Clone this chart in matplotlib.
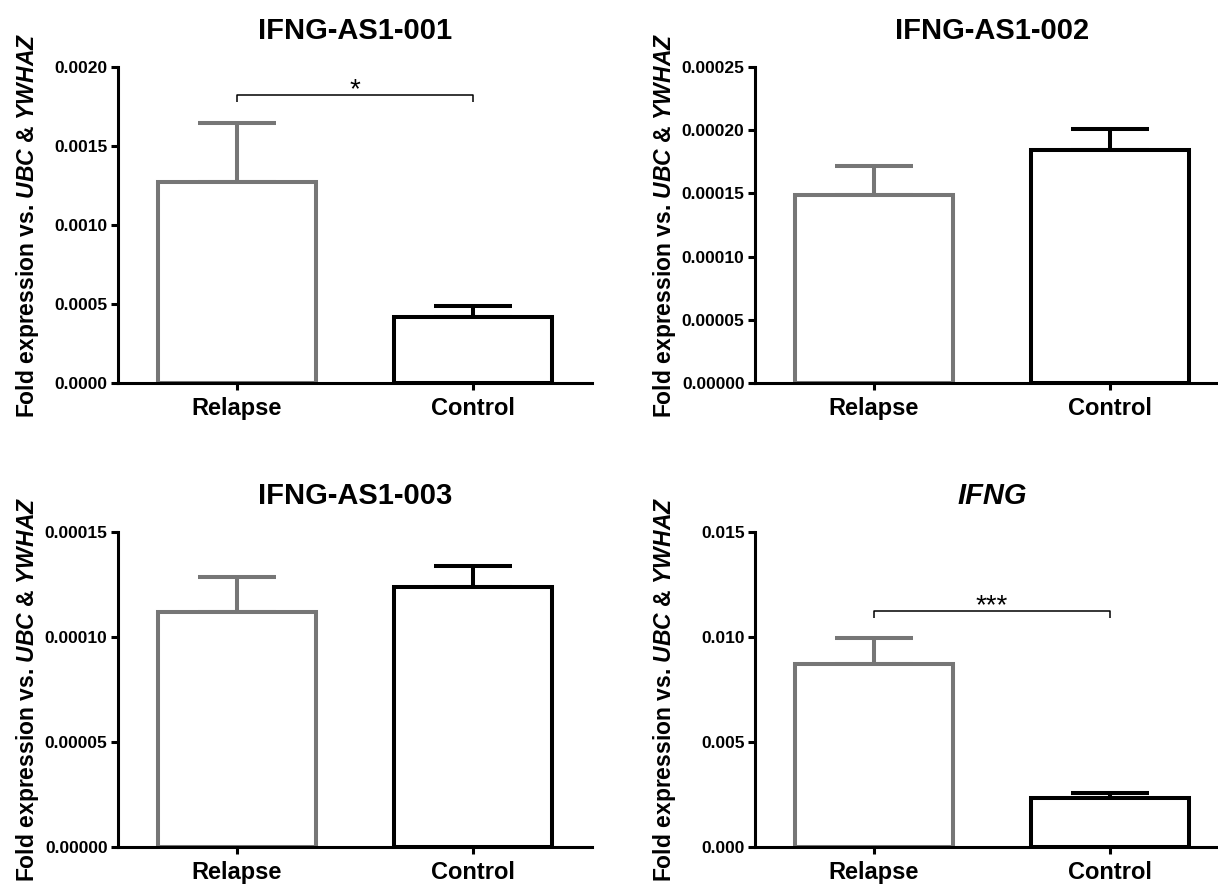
import matplotlib
matplotlib.use('Agg')
import matplotlib.pyplot as plt

plt.rcParams['font.family'] = ['Liberation Sans', 'DejaVu Sans']
plt.rcParams['font.weight'] = 'bold'
plt.rcParams['mathtext.fontset'] = 'custom'
plt.rcParams['mathtext.rm'] = 'Liberation Sans:bold'
plt.rcParams['mathtext.it'] = 'Liberation Sans:bold:italic'
plt.rcParams['mathtext.bf'] = 'Liberation Sans:bold'

# ---------------- data ----------------
categories = ['Relapse', 'Control']
titles = ['IFNG-AS1-001', 'IFNG-AS1-002', 'IFNG-AS1-003', 'IFNG']

means_001 = [0.00127, 0.000420]
sem_001 = [0.000375, 0.000070]
means_002 = [0.000149, 0.000184]
sem_002 = [0.0000226, 0.0000173]
means_003 = [0.000112, 0.000124]
sem_003 = [0.0000166, 0.0000096]
means_ifng = [0.00873, 0.00233]
sem_ifng = [0.00122, 0.00023]

yticks_001 = [0.0, 0.0005, 0.0010, 0.0015, 0.0020]
ylabels_001 = ['0.0000', '0.0005', '0.0010', '0.0015', '0.0020']
yticks_002 = [0.0, 0.00005, 0.00010, 0.00015, 0.00020, 0.00025]
ylabels_002 = ['0.00000', '0.00005', '0.00010', '0.00015', '0.00020', '0.00025']
yticks_003 = [0.0, 0.00005, 0.00010, 0.00015]
ylabels_003 = ['0.00000', '0.00005', '0.00010', '0.00015']
yticks_ifng = [0.0, 0.005, 0.010, 0.015]
ylabels_ifng = ['0.000', '0.005', '0.010', '0.015']

# significance annotations: (bracket level, drop level, text baseline, text)
sig_001 = (0.00182, 0.00178, 0.00181, '*')
sig_ifng = (0.01124, 0.01091, 0.01112, '***')

bar_colors = ['#767676', '#000000']
ylabel = r'Fold expression vs. $\mathit{UBC}$ & $\mathit{YWHAZ}$'

# ---------------- layout ----------------
W, H = 1218, 884
fig = plt.figure(figsize=(W / 100, H / 100), dpi=100)
fig.patch.set_facecolor('white')

AX_W = 474


def make_axes(left_px, top_px, bottom_px):
    return fig.add_axes([left_px / W, 1 - bottom_px / H, AX_W / W,
                         (bottom_px - top_px) / H])


panels = [
    (make_axes(118, 67, 383), titles[0], means_001, sem_001, yticks_001, ylabels_001, sig_001, 'normal'),
    (make_axes(755, 67, 383), titles[1], means_002, sem_002, yticks_002, ylabels_002, None, 'normal'),
    (make_axes(118, 532, 847), titles[2], means_003, sem_003, yticks_003, ylabels_003, None, 'normal'),
    (make_axes(755, 532, 847), titles[3], means_ifng, sem_ifng, yticks_ifng, ylabels_ifng, sig_ifng, 'italic'),
]

x = [0, 1]
for ax, title, means, sems, yt, yl, sig, tstyle in panels:
    ax.set_facecolor('none')
    for xi, m, s, c in zip(x, means, sems, bar_colors):
        ax.errorbar([xi], [m], yerr=[[0], [s]], fmt='none', ecolor=c,
                    elinewidth=2.9, capsize=28, capthick=2.9, zorder=2)
        ax.bar([xi], [m], width=0.67, facecolor='white', edgecolor=c,
               linewidth=2.9, zorder=3, joinstyle='miter')
    ax.set_xlim(-0.504, 1.504)
    ax.set_ylim(yt[0], yt[-1])
    ax.set_yticks(yt)
    ax.set_yticklabels(yl)
    ax.set_xticks(x)
    ax.set_xticklabels(categories)
    for sp in ['top', 'right']:
        ax.spines[sp].set_visible(False)
    for sp in ['left', 'bottom']:
        ax.spines[sp].set_linewidth(2.2)
        ax.spines[sp].set_zorder(4)
    ax.tick_params(axis='y', direction='out', length=5, width=2.2,
                   labelsize=12.5, pad=2.5)
    ax.tick_params(axis='x', direction='out', length=5, width=2.2,
                   labelsize=17, pad=5)
    for lab in ax.get_yticklabels() + ax.get_xticklabels():
        lab.set_fontweight('bold')
    ax.set_title(title, fontsize=21, fontweight='bold', fontstyle=tstyle, pad=20)
    ax.set_ylabel(ylabel, fontsize=16.5, fontweight='bold')
    ax.yaxis.set_label_coords(-77 / AX_W, 0.5)
    if sig is not None:
        lvl, drop, tb, txt = sig
        ax.plot([0, 0, 1, 1], [drop, lvl, lvl, drop], color='black',
                lw=1.1, solid_capstyle='butt', zorder=5)
        ax.text(0.5, tb, txt, ha='center', va='baseline', fontsize=20,
                fontweight='normal', color='black', zorder=5)

fig.savefig('out.png', dpi=100, facecolor='white')
